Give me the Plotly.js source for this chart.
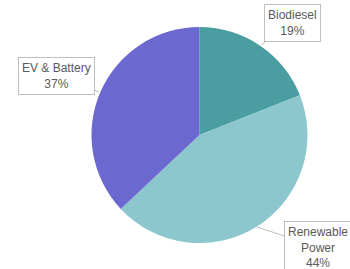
<!DOCTYPE html>
<html><head><meta charset="utf-8">
<script src="https://cdn.plot.ly/plotly-3.0.1.min.js"></script>
<style>html,body{margin:0;padding:0;background:#fff}</style>
</head><body><div id="chart" style="width:350px;height:269px"></div>
<script>
const categories = ["Biodiesel", "Renewable Power", "EV & Battery"];
const labelTexts = ["Biodiesel<br>19%", "Renewable<br>Power<br>44%", "EV & Battery<br>37%"];
const values = [19, 44, 37];
const colors = ["#4a9ea1", "#8cc7cd", "#6b69cf"];

const W = 350, H = 269;
const cx = 199.5, cy = 135, r = 108;
// callout tips (pixel) and text offsets
const tips = [[261, 45], [257, 227], [99, 92]];
const offs = [[31, -22], [61, 20], [-43, -16]];

const annotations = categories.map((c, i) => ({
  xref: 'paper', yref: 'paper',
  x: tips[i][0] / W, y: 1 - tips[i][1] / H,
  ax: offs[i][0], ay: offs[i][1],
  text: labelTexts[i],
  showarrow: true, arrowhead: 0, arrowwidth: 1, arrowcolor: '#bfbfbf',
  bordercolor: '#bfbfbf', borderwidth: 1, borderpad: 3, bgcolor: '#ffffff',
  font: {family: '"Liberation Sans Narrow", "Arial Narrow", "Liberation Sans", sans-serif', size: 12, color: '#595959'},
  align: 'center'
}));

const data = [{
  type: 'pie', labels: categories, values: values,
  marker: {colors: colors, line: {width: 0}},
  sort: false, direction: 'clockwise', rotation: 0,
  textinfo: 'none', hoverinfo: 'label+percent',
  domain: {x: [(cx - r) / W, (cx + r) / W], y: [(H - cy - r) / H, (H - cy + r) / H]}
}];

const layout = {
  width: W, height: H, margin: {l: 0, r: 0, t: 0, b: 0},
  showlegend: false, paper_bgcolor: '#ffffff',
  annotations: annotations
};
Plotly.newPlot('chart', data, layout, {staticPlot: true});
</script></body></html>
